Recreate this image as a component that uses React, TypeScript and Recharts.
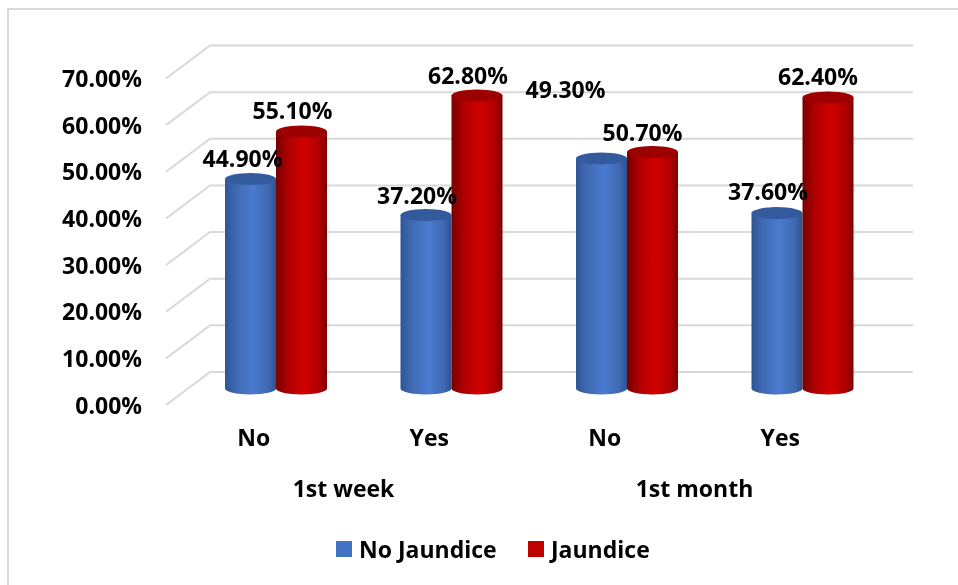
import {BarChart, Bar, XAxis, YAxis, CartesianGrid, LabelList} from 'recharts';

const answers = ['No', 'Yes', 'No', 'Yes'];
const periods = ['1st week', '1st week', '1st month', '1st month'];
const noJaundice = [44.9, 37.2, 49.3, 37.6];
const jaundice = [55.1, 62.8, 50.7, 62.4];
const yTicks = [0, 10, 20, 30, 40, 50, 60, 70];

const FONT = '"Open Sans", sans-serif';
const FONT_SIZE = 23;
const DEPTH_X = 22;
const DEPTH_Y = 16.5;
const PLOT_LEFT = 180;
const WALL_RIGHT = 905;
const GRID = '#d9d9d9';

// hand placed labels, the reference has them nudged around
const blueLabelShift = [[-8, -20], [-9, -19], [-36, -69], [-9, -21]];
const redLabelShift = [[-9, -20], [-9, -20], [-10, -19], [-10, -20]];

const data = answers.map((answer, i) => ({
    answer,
    period: periods[i],
    noJaundice: noJaundice[i],
    jaundice: jaundice[i],
}));

function Cylinder({x, y, width, height, fill, top}: any) {
    const ry = 6;
    const right = x + width;
    const bottom = y + height;
    const d = `M${x},${y} L${x},${bottom} A${width / 2},${ry} 0 0 0 ${right},${bottom} L${right},${y} Z`;
    return (
        <g>
            <path d={d} fill={fill}/>
            <ellipse cx={x + width / 2} cy={y} rx={width / 2} ry={ry} fill={top}/>
        </g>
    );
}

// floor/wall line: diagonal on the side wall, then straight along the back
function WallLine({y1}: any) {
    const left = PLOT_LEFT - DEPTH_X;
    return (
        <polyline
            points={`${left},${y1 + DEPTH_Y} ${left + 2 * DEPTH_X},${y1 - DEPTH_Y} ${WALL_RIGHT},${y1 - DEPTH_Y}`}
            fill="none"
            stroke={GRID}
            strokeWidth={2}
        />
    );
}

function Label({x, y, children}: any) {
    return (
        <text x={x} y={y + 8} fontFamily={FONT} fontSize={FONT_SIZE} fontWeight={700} fill="#000" textAnchor="middle">
            {children}
        </text>
    );
}

function YTick({x, y, payload}: any) {
    return (
        <text x={x - 38} y={y + 17 + 8} textAnchor="end" fontFamily={FONT} fontSize={FONT_SIZE} fontWeight={700} fill="#000">
            {`${payload.value.toFixed(2)}%`}
        </text>
    );
}

function AnswerTick({x, y, payload}: any) {
    return <Label x={x - DEPTH_X} y={y + 41}>{payload.value}</Label>;
}

function PeriodTick({x, y, payload}: any) {
    return <Label x={x - DEPTH_X + 2} y={y + 32}>{payload.value}</Label>;
}

const valueLabel = (shift: number[][]) => ({x, y, width, value, index}: any) => (
    <Label x={x + width / 2 + shift[index][0]} y={y + shift[index][1]}>
        {`${value.toFixed(2)}%`}
    </Label>
);

function Legend() {
    const item = (color: string, label: string, left: number) => (
        <div style={{position: 'absolute', left, top: 0, display: 'flex', alignItems: 'center', height: 30}}>
            <div style={{width: 16, height: 16, background: color, marginRight: 7}}/>
            <span style={{font: `700 ${FONT_SIZE}px ${FONT}`, color: '#000', whiteSpace: 'nowrap'}}>{label}</span>
        </div>
    );
    return (
        <div style={{position: 'absolute', left: 0, top: 526, width: 942, height: 30}}>
            {item('#4472c4', 'No Jaundice', 328)}
            {item('#c00000', 'Jaundice', 520)}
        </div>
    );
}

export default function App() {
    return (
        <div style={{position: 'relative', width: 942, height: 569, background: '#fff'}}>
            <div style={{position: 'fixed', left: 7, top: 8, width: 951, height: 577, boxSizing: 'border-box', borderTop: '2px solid #d9d9d9', borderLeft: '2px solid #d9d9d9'}}/>
            <BarChart
                width={942}
                height={569}
                data={data}
                barSize={51}
                barGap={0}
                margin={{top: 54, right: 60, bottom: 0, left: 0}}
                style={{position: 'absolute', left: 0, top: 0}}
            >
                <defs>
                    <linearGradient id="blueBody" x1="0" y1="0" x2="1" y2="0">
                        <stop offset="0%" stopColor="#2f5597"/>
                        <stop offset="20%" stopColor="#3f68b0"/>
                        <stop offset="55%" stopColor="#4a7bd0"/>
                        <stop offset="85%" stopColor="#3f68b0"/>
                        <stop offset="100%" stopColor="#2e5290"/>
                    </linearGradient>
                    <linearGradient id="redBody" x1="0" y1="0" x2="1" y2="0">
                        <stop offset="0%" stopColor="#780000"/>
                        <stop offset="25%" stopColor="#b00000"/>
                        <stop offset="55%" stopColor="#d20000"/>
                        <stop offset="85%" stopColor="#ae0000"/>
                        <stop offset="100%" stopColor="#800000"/>
                    </linearGradient>
                </defs>
                <CartesianGrid vertical={false} horizontal={(p: any) => <WallLine key={p.key ?? p.y1} y1={p.y1}/>}/>
                <YAxis
                    type="number"
                    domain={[0, 70]}
                    ticks={yTicks}
                    width={PLOT_LEFT}
                    axisLine={false}
                    tickLine={false}
                    tick={<YTick/>}
                    interval={0}
                />
                <XAxis
                    dataKey="answer"
                    xAxisId={0}
                    height={60}
                    axisLine={false}
                    tickLine={false}
                    tick={<AnswerTick/>}
                    interval={0}
                    allowDuplicatedCategory
                />
                <XAxis
                    dataKey="period"
                    xAxisId={1}
                    height={128.5}
                    axisLine={false}
                    tickLine={false}
                    tick={<PeriodTick/>}
                    interval={0}
                    allowDuplicatedCategory={false}
                />
                <Bar
                    dataKey="noJaundice"
                    xAxisId={0}
                    isAnimationActive={false}
                    shape={(p: any) => <Cylinder {...p} fill="url(#blueBody)" top="#335a9c"/>}
                >
                    <LabelList dataKey="noJaundice" content={valueLabel(blueLabelShift)}/>
                </Bar>
                <Bar
                    dataKey="jaundice"
                    xAxisId={0}
                    isAnimationActive={false}
                    shape={(p: any) => <Cylinder {...p} fill="url(#redBody)" top="#9c0000"/>}
                >
                    <LabelList dataKey="jaundice" content={valueLabel(redLabelShift)}/>
                </Bar>
            </BarChart>
            <Legend/>
        </div>
    );
}
